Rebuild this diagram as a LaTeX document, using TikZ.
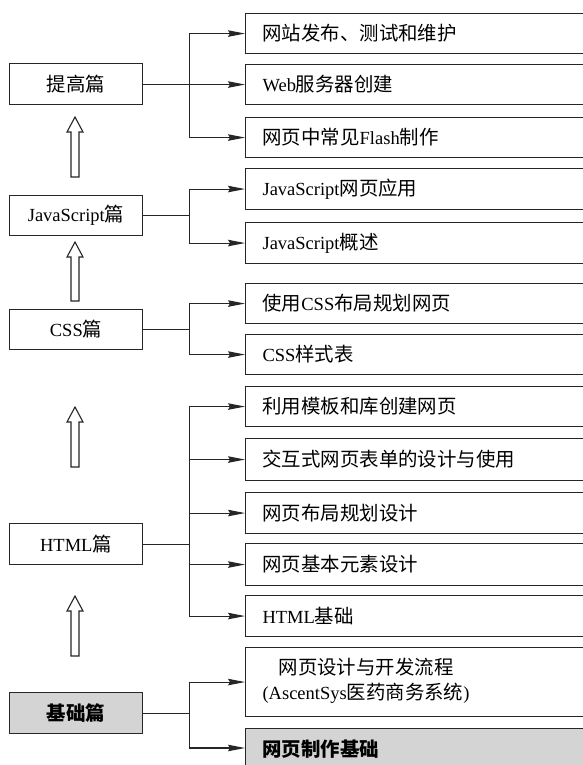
\documentclass[tikz,border=0pt]{standalone}
\usepackage{fontspec}
\setmainfont{Liberation Serif}
\newfontfamily\cjkfont{Noto Sans CJK SC}[Scale=1.05]
\newcommand\zh[1]{{\cjkfont #1}}
\usetikzlibrary{arrows.meta}
\tikzset{
  box/.style={draw=black!85, line width=1.1pt, inner sep=0pt, font=\fontsize{18.5}{25}\selectfont},
  lbox/.style={box, minimum width=133pt, minimum height=41pt, anchor=north west},
  rbox/.style={box, anchor=north west, text width=316pt, align=left, inner xsep=17pt},
  shade/.style={fill=black!17},
  conn/.style={draw=black!85, line width=1.1pt},
  arr/.style={conn, -{Stealth[length=17pt,width=6.5pt,inset=2pt]}},
  hollow/.style={draw=black!85, line width=1.1pt, fill=white},
}
\newcommand\hollowup[3]{%
  \draw[hollow] (#1-4,#3) -- (#1-4,#2+15) -- (#1-8,#2+15) -- (#1,#2) -- (#1+8,#2+15) -- (#1+4,#2+15) -- (#1+4,#3) -- cycle;}
\begin{document}
\begin{tikzpicture}[x=1pt,y=-1pt]
\useasboundingbox (0,0) rectangle (583,765);
\clip (0,0) rectangle (583,765);

% left column
\node[lbox] (L1) at (9,63) {\zh{提高篇}};
\node[lbox, minimum height=40pt] (L2) at (9,195) {JavaScript\zh{篇}};
\node[lbox, minimum height=40pt] (L3) at (9,309) {CSS\zh{篇}};
\node[lbox] (L4) at (9,523) {HTML\zh{篇}};
\node[lbox, shade] (L5) at (9,692) {\bfseries\zh{基础篇}};

% right column
\node[rbox, minimum height=40pt] (R1) at (245,13) {\zh{网站发布、测试和维护}};
\node[rbox, minimum height=40pt] (R2) at (245,64) {Web\zh{服务器创建}};
\node[rbox, minimum height=40pt] (R3) at (245,117) {\zh{网页中常见}Flash\zh{制作}};
\node[rbox, minimum height=41pt] (R4) at (245,168) {JavaScript\zh{网页应用}};
\node[rbox, minimum height=41pt] (R5) at (245,222) {JavaScript\zh{概述}};
\node[rbox, minimum height=40pt] (R6) at (245,283) {\zh{使用}CSS\zh{布局规划网页}};
\node[rbox, minimum height=40pt] (R7) at (245,334) {CSS\zh{样式表}};
\node[rbox, minimum height=40pt] (R8) at (245,386) {\zh{利用模板和库创建网页}};
\node[rbox, minimum height=42pt] (R9) at (245,438) {\zh{交互式网页表单的设计与使用}};
\node[rbox, minimum height=41pt] (R10) at (245,492) {\zh{网页布局规划设计}};
\node[rbox, minimum height=42pt] (R11) at (245,543) {\zh{网页基本元素设计}};
\node[rbox, minimum height=41pt] (R12) at (245,595) {HTML\zh{基础}};
\node[rbox, minimum height=69pt] (R13) at (245,647) {\begin{tabular}{@{}c@{}}\zh{网页设计与开发流程}\\(AscentSys\zh{医药商务系统})\end{tabular}};
\node[rbox, shade, minimum height=42pt] (R14) at (245,728) {\bfseries\zh{网页制作基础}};

% connectors: 提高篇
\draw[arr] (L1.east |- R2.west) -- (R2.west);
\path (L1.east) -- ++(46,0) coordinate (b1);
\draw[conn] (b1 |- R1.west) -- (b1 |- R3.west);
\draw[arr] (b1 |- R1.west) -- (R1.west);
\draw[arr] (b1 |- R3.west) -- (R3.west);

% JavaScript篇
\draw[conn] (L2.east) -- ++(46,0) coordinate (b2);
\draw[conn] (b2 |- R4.west) -- (b2 |- R5.west);
\draw[arr] (b2 |- R4.west) -- (R4.west);
\draw[arr] (b2 |- R5.west) -- (R5.west);

% CSS篇
\draw[conn] (L3.east) -- ++(46,0) coordinate (b3);
\draw[conn] (b3 |- R6.west) -- (b3 |- R7.west);
\draw[arr] (b3 |- R6.west) -- (R6.west);
\draw[arr] (b3 |- R7.west) -- (R7.west);

% HTML篇
\draw[conn] (L4.east) -- ++(46,0) coordinate (b4);
\draw[conn] (b4 |- R8.west) -- (b4 |- R12.west);
\foreach \r in {R8,R9,R10,R11,R12}{\draw[arr] (b4 |- \r.west) -- (\r.west);}

% 基础篇
\draw[conn] (L5.east) -- ++(46,0) coordinate (b5);
\draw[conn] (b5 |- R13.west) -- (b5 |- 0,748);
\draw[arr] (b5 |- R13.west) -- (R13.west);
\draw[arr] (b5 |- 0,748) -- (R14.west |- 0,748);

% hollow upward arrows
\hollowup{75}{117}{177}
\hollowup{75}{242}{301}
\hollowup{75}{407}{467}
\hollowup{75}{596}{656}
\end{tikzpicture}
\end{document}
